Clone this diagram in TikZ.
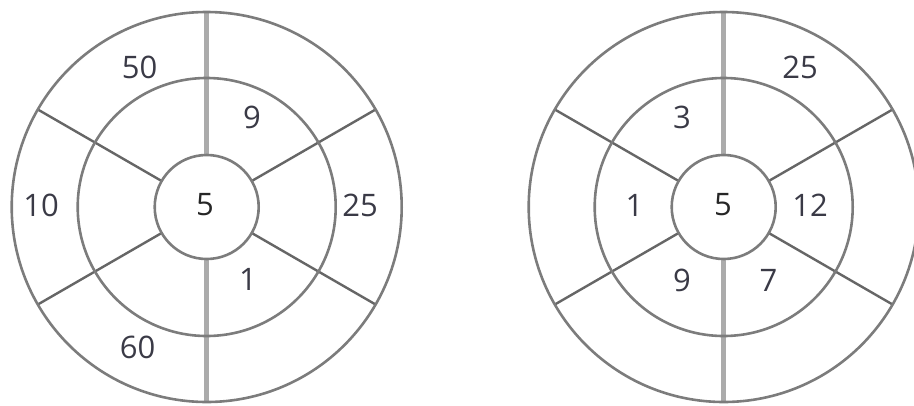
\documentclass[tikz,border=0pt]{standalone}
\usepackage{fontspec}
\setmainfont{Open Sans}
\usetikzlibrary{backgrounds}
\definecolor{dialring}{HTML}{7C7C7C}
\definecolor{dialspoke}{HTML}{666666}
\definecolor{dialaxis}{HTML}{ABABAB}
\definecolor{dialink}{HTML}{3A3A46}

\begin{document}
\begin{tikzpicture}[
  x=1pt, y=-1pt,
  ringbox/.style={circle, draw=dialring, line width=2.6pt, inner sep=0pt, outer sep=0pt},
  rim/.style={ringbox, minimum size=390pt},
  mid/.style={ringbox, minimum size=258pt},
  hub/.style={ringbox, minimum size=104pt},
  spoke/.style={draw=dialspoke, line width=2.4pt},
  axisline/.style={draw=dialaxis, line width=5pt},
  num/.style={font=\fontsize{31}{31}\selectfont, text=dialink, inner sep=0pt}
]
\useasboundingbox (0,0) rectangle (914,405);

% left dial
\node[rim] (lrim) at (206.7,207) {};
\node[mid] (lmid) at (lrim.center) {};
\node[hub] (lhub) at (lrim.center) {};
% right dial
\node[rim] (rrim) at (723.7,207) {};
\node[mid] (rmid) at (rrim.center) {};
\node[hub] (rhub) at (rrim.center) {};

\begin{scope}[on background layer]
  \foreach \d in {l,r}{
    \draw[axisline] (\d rim.north) -- (\d hub.north);
    \draw[axisline] (\d hub.south) -- (\d rim.south);
    \foreach \a in {30,150,210,330}
      \draw[spoke] (\d hub.\a) -- (\d rim.\a);
  }
\end{scope}

% left values
\node[num] (l50) at (139.5,67) {50};
\node[num] (l9)  at (252,117) {9};
\node[num] (l10) at (41,205) {10};
\node[num, text=black!85] (l5) at (205,205) {5};
\node[num] (l25) at (360,205) {25};
\node[num] (l1)  at (248,279) {1};
\node[num] (l60) at (137.5,347) {60};
% right values
\node[num] (r25) at (800,67) {25};
\node[num] (r3)  at (682,117) {3};
\node[num] (r1)  at (634.5,205) {1};
\node[num, text=black!85] (r5) at (723,205) {5};
\node[num] (r12) at (810,205) {12};
\node[num] (r9)  at (682,280) {9};
\node[num] (r7)  at (768.5,280) {7};
\end{tikzpicture}
\end{document}
